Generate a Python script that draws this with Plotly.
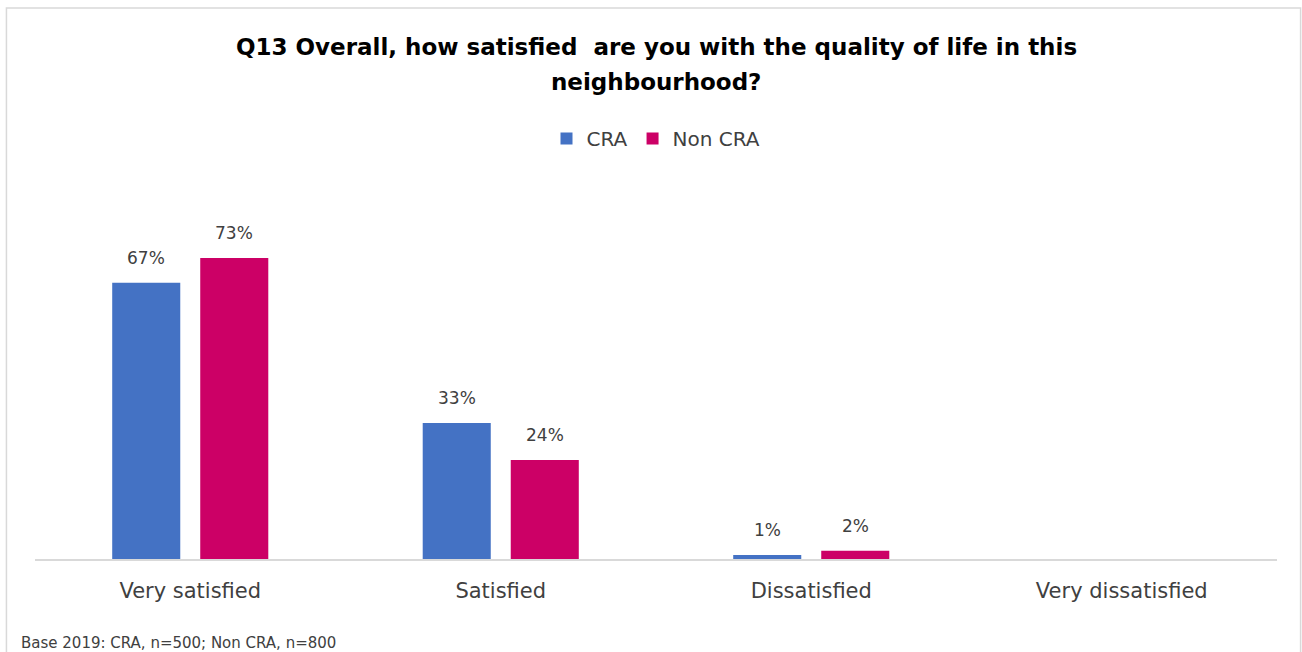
import plotly.graph_objects as go

categories = ["Very satisfied", "Satisfied", "Dissatisfied", "Very dissatisfied"]
cra_values = [67, 33, 1, 0]
non_cra_values = [73, 24, 2, 0]
series_names = ["CRA", "Non CRA"]
series_colors = ["#4472C4", "#CC0066"]

title_lines = ["Q13 Overall, how satisfied  are you with the quality of life in this",
               "neighbourhood?"]
footer_text = "Base 2019: CRA, n=500; Non CRA, n=800"

FONT = "'DejaVu Sans', sans-serif"
TEXT_GREY = "#404040"

# plot area geometry (pixels)
PLOT_TOP, PLOT_BOTTOM = 229, 559
PLOT_H = PLOT_BOTTOM - PLOT_TOP


def paper_y(px):
    return (PLOT_BOTTOM - px) / PLOT_H


fig = go.Figure()
for name, vals, color in zip(series_names, [cra_values, non_cra_values], series_colors):
    fig.add_trace(go.Bar(
        name=name,
        x=categories,
        y=vals,
        marker=dict(color=color, line=dict(width=0)),
    ))

# value labels above each bar (group offsets of ±44 px from the category centre)
annotations = []
for vals, shift in zip([cra_values, non_cra_values], [-44, 44]):
    for cat, v in zip(categories, vals):
        if not v:
            continue
        annotations.append(dict(
            x=cat, y=v, xref="x", yref="y", text=f"{v}%", showarrow=False,
            xshift=shift, yshift=13, yanchor="bottom",
            font=dict(family=FONT, size=17, color=TEXT_GREY),
        ))

for line, py in zip(title_lines, [47, 82]):
    annotations.append(dict(
        text=f"<b>{line}</b>", xref="paper", yref="paper", x=0.5, y=paper_y(py),
        xanchor="center", yanchor="middle", showarrow=False,
        font=dict(family=FONT, size=23, color="#000000"),
    ))

annotations.append(dict(
    text=footer_text, xref="paper", yref="paper", x=-0.013, y=paper_y(643),
    xanchor="left", yanchor="middle", showarrow=False,
    font=dict(family=FONT, size=15, color=TEXT_GREY),
))

fig.update_layout(
    width=1302,
    height=652,
    paper_bgcolor="white",
    plot_bgcolor="white",
    barmode="group",
    bargap=0.433,
    bargroupgap=0.227,
    margin=dict(l=35, r=25, t=PLOT_TOP, b=652 - PLOT_BOTTOM),
    legend=dict(
        orientation="h",
        x=0.5,
        xanchor="center",
        y=1 - 119 / 652,
        yref="container",
        yanchor="top",
        font=dict(family=FONT, size=20, color=TEXT_GREY),
        itemwidth=30,
        traceorder="normal",
    ),
    showlegend=True,
    xaxis=dict(
        showline=True,
        linecolor="#D9D9D9",
        linewidth=2,
        ticks="",
        ticklabelstandoff=12,
        tickfont=dict(family=FONT, size=21, color=TEXT_GREY),
        showgrid=False,
    ),
    yaxis=dict(
        range=[0, 80],
        visible=False,
        showgrid=False,
        zeroline=False,
    ),
    shapes=[
        dict(type="rect", xref="paper", yref="paper", x0=-0.023, x1=1.019,
             y0=-0.5, y1=paper_y(8),
             line=dict(color="#D9D9D9", width=1.5), fillcolor="rgba(0,0,0,0)", layer="below"),
    ],
    annotations=annotations,
)

fig.write_html("out.html")
